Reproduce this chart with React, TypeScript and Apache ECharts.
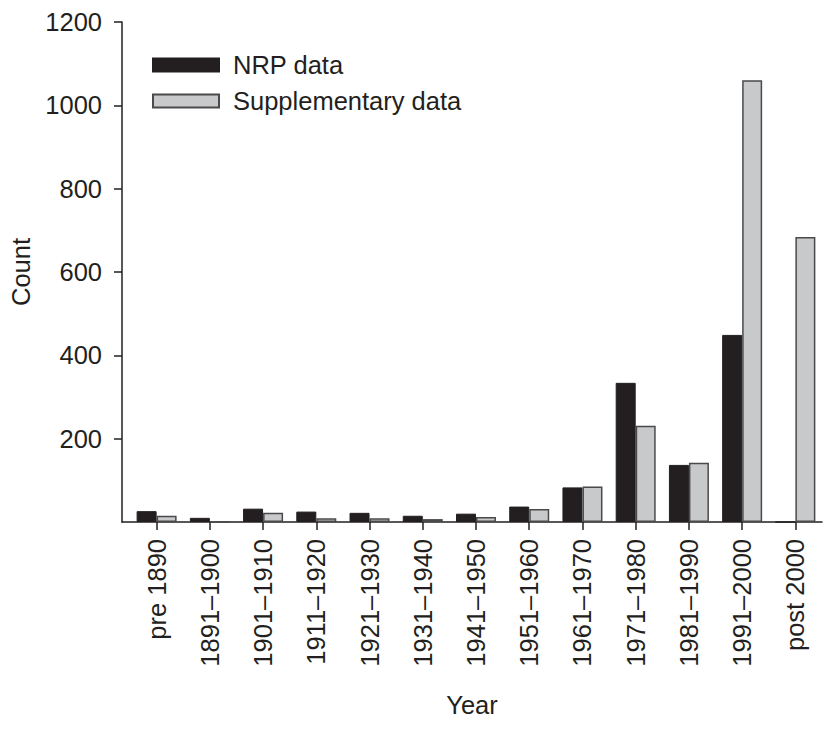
import React, { useEffect, useRef } from "react";
import * as echarts from "echarts";

const categories = [
  "pre 1890",
  "1891–1900",
  "1901–1910",
  "1911–1920",
  "1921–1930",
  "1931–1940",
  "1941–1950",
  "1951–1960",
  "1961–1970",
  "1971–1980",
  "1981–1990",
  "1991–2000",
  "post 2000",
];
const nrpData = [26, 10, 32, 25, 22, 15, 20, 37, 83, 334, 137, 449, 0];
const supplementaryData = [15, 0, 22, 9, 9, 7, 12, 31, 85, 231, 142, 1060, 684];
const yTicks = { min: 0, max: 1200, interval: 200 };

const FONT = "'Liberation Sans', Arial, Helvetica, sans-serif";
const INK = "#231f20";
const FS = 25.5;

export default function App() {
  const ref = useRef<HTMLDivElement>(null);
  useEffect(() => {
    document.body.style.margin = "0";
    if (!ref.current) return;
    const chart = echarts.init(ref.current, undefined, { renderer: "svg" });
    chart.setOption({
      animation: false,
      backgroundColor: "#ffffff",
      textStyle: { fontFamily: FONT, color: INK },
      legend: {
        orient: "vertical",
        left: 147,
        top: 47,
        itemWidth: 66,
        itemHeight: 13,
        itemGap: 10,
        icon: "rect",
        textStyle: { fontSize: FS, color: INK, fontFamily: FONT, padding: [0, 0, 0, 9] },
        data: ["NRP data", "Supplementary data"],
      },
      grid: [
        { left: 118, right: 5, top: 22, bottom: 216 },
        { left: 130, right: 5, top: 22, bottom: 216 },
      ],
      xAxis: [
        {
          gridIndex: 0,
          type: "value",
          min: 0,
          max: 1,
          axisLine: { show: true, onZero: false, lineStyle: { color: INK, width: 1.5 } },
          axisTick: { show: false },
          axisLabel: { show: false },
          splitLine: { show: false },
          name: "Year",
          nameLocation: "middle",
          nameGap: 170,
          nameTextStyle: { fontSize: FS, color: INK, fontFamily: FONT },
        },
        {
          gridIndex: 1,
          type: "category",
          data: categories,
          axisLine: { show: false },
          axisTick: {
            show: true,
            alignWithLabel: true,
            length: 8,
            lineStyle: { color: INK, width: 1.5 },
          },
          axisLabel: {
            rotate: 90,
            interval: 0,
            margin: 17,
            fontSize: FS,
            color: INK,
            fontFamily: FONT,
          },
        },
      ],
      yAxis: [
        {
          gridIndex: 0,
          type: "value",
          min: yTicks.min,
          max: yTicks.max,
          interval: yTicks.interval,
          axisLine: { show: true, lineStyle: { color: INK, width: 1.5 } },
          axisTick: { show: true, length: 8, lineStyle: { color: INK, width: 1.5 } },
          axisLabel: {
            showMinLabel: false,
            fontSize: FS,
            margin: 20,
            color: INK,
            fontFamily: FONT,
            formatter: (v: number) => String(v),
          },
          splitLine: { show: false },
          name: "Count",
          nameLocation: "middle",
          nameGap: 88,
          nameTextStyle: { fontSize: FS, color: INK, fontFamily: FONT },
        },
        {
          gridIndex: 1,
          type: "value",
          min: yTicks.min,
          max: yTicks.max,
          interval: yTicks.interval,
          show: false,
          splitLine: { show: false },
        },
      ],
      series: [
        {
          name: "NRP data",
          type: "bar",
          xAxisIndex: 1,
          yAxisIndex: 1,
          data: nrpData,
          barWidth: 20,
          barGap: "0%",
          itemStyle: { color: INK, borderColor: INK, borderWidth: 1 },
        },
        {
          name: "Supplementary data",
          type: "bar",
          xAxisIndex: 1,
          yAxisIndex: 1,
          data: supplementaryData,
          barWidth: 20,
          barGap: "0%",
          itemStyle: { color: "#c8c9cb", borderColor: "#4a4a4c", borderWidth: 1.5 },
        },
      ],
    });
    return () => chart.dispose();
  }, []);
  return <div ref={ref} style={{ width: 827, height: 738 }} />;
}
